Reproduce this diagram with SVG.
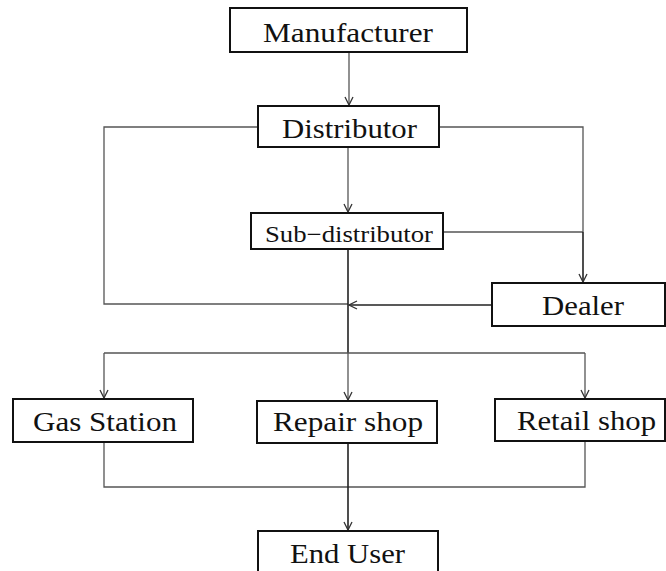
<svg xmlns="http://www.w3.org/2000/svg" width="666" height="571" viewBox="0 0 666 571">
  <style>
    .box { fill: #fff; stroke: #111; stroke-width: 2; }
    .lbl { font-family: "Liberation Serif", "DejaVu Serif", serif; font-size: 27px; fill: #111; text-anchor: middle; }
    .small { font-size: 23px; }
    .wire { fill: none; stroke: #555; stroke-width: 1.3; }
    .dark { stroke: #222; stroke-width: 1.6; }
  </style>
  <defs>
    <marker id="vee" viewBox="0 0 10 10" refX="9" refY="5" markerWidth="10" markerHeight="10" markerUnits="userSpaceOnUse" orient="auto">
      <path d="M1,1 L9,5 L1,9" fill="none" stroke="#333" stroke-width="1.3"/>
    </marker>
  </defs>
  <rect width="666" height="571" fill="#fff"/>

  <!-- connectors -->
  <g id="connectors">
    <!-- Manufacturer to Distributor -->
    <path class="wire" d="M349,52 V105" marker-end="url(#vee)"/>
    <!-- Distributor to Sub-distributor -->
    <path class="wire" d="M348,147 V212" marker-end="url(#vee)"/>
    <!-- Distributor left loop into trunk -->
    <path class="wire" d="M258,127 H104 V304 H348"/>
    <!-- Distributor right branch to Dealer -->
    <path class="wire" d="M439,127 H583 V232"/>
    <!-- Sub-distributor to Dealer -->
    <path class="wire" d="M443,232 H583"/>
    <path class="wire dark" d="M583,232 V282" marker-end="url(#vee)"/>
    <!-- Dealer back into trunk -->
    <path class="wire dark" d="M492,305 H349" marker-end="url(#vee)"/>
    <!-- trunk from Sub-distributor -->
    <path class="wire dark" d="M348,249 V353"/>
    <!-- fan-out to outlets -->
    <path class="wire" d="M104,353 H585"/>
    <path class="wire" d="M104,353 V398" marker-end="url(#vee)"/>
    <path class="wire" d="M348,353 V400" marker-end="url(#vee)"/>
    <path class="wire" d="M585,353 V398" marker-end="url(#vee)"/>
    <!-- outlets to End User -->
    <path class="wire" d="M104,442 V487 H585 V441"/>
    <path class="wire dark" d="M348,443 V530" marker-end="url(#vee)"/>
  </g>

  <g id="manufacturer">
    <rect class="box" x="230" y="8" width="237" height="44"/>
    <text class="lbl" x="348" y="42" textLength="170" lengthAdjust="spacingAndGlyphs">Manufacturer</text>
  </g>
  <g id="distributor">
    <rect class="box" x="258" y="106" width="181" height="41"/>
    <text class="lbl" x="349.5" y="138" textLength="135" lengthAdjust="spacingAndGlyphs">Distributor</text>
  </g>
  <g id="sub-distributor">
    <rect class="box" x="251" y="213" width="192" height="36"/>
    <text class="lbl small" x="349" y="242" textLength="168" lengthAdjust="spacingAndGlyphs">Sub−distributor</text>
  </g>
  <g id="dealer">
    <rect class="box" x="492" y="283" width="173" height="43"/>
    <text class="lbl" x="583" y="315" textLength="82" lengthAdjust="spacingAndGlyphs">Dealer</text>
  </g>
  <g id="gas-station">
    <rect class="box" x="13" y="399" width="180" height="43"/>
    <text class="lbl" x="105" y="431" textLength="144" lengthAdjust="spacingAndGlyphs">Gas Station</text>
  </g>
  <g id="repair-shop">
    <rect class="box" x="257" y="401" width="180" height="42"/>
    <text class="lbl" x="348" y="431" textLength="150" lengthAdjust="spacingAndGlyphs">Repair shop</text>
  </g>
  <g id="retail-shop">
    <rect class="box" x="495" y="399" width="170" height="42"/>
    <text class="lbl" x="586.5" y="430" textLength="139" lengthAdjust="spacingAndGlyphs">Retail shop</text>
  </g>
  <g id="end-user">
    <rect class="box" x="258" y="531" width="180" height="45"/>
    <text class="lbl" x="347.5" y="563" textLength="115" lengthAdjust="spacingAndGlyphs">End User</text>
  </g>
</svg>
